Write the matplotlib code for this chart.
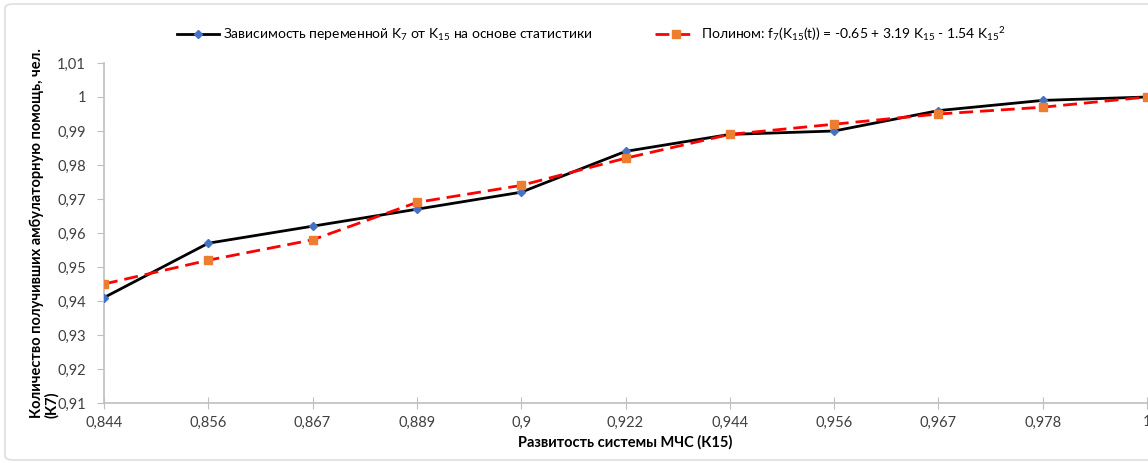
import matplotlib
matplotlib.use("Agg")
import matplotlib.pyplot as plt
from matplotlib.patches import FancyBboxPatch

plt.rcParams['font.family'] = ['Lato', 'DejaVu Sans']
plt.rcParams['mathtext.fontset'] = 'custom'
plt.rcParams['mathtext.rm'] = 'Lato'
plt.rcParams['mathtext.it'] = 'Lato'

# data
x_labels = ["0,844", "0,856", "0,867", "0,889", "0,9", "0,922", "0,944", "0,956", "0,967", "0,978", "1"]
k7_stat = [0.941, 0.957, 0.962, 0.967, 0.972, 0.984, 0.989, 0.990, 0.996, 0.999, 1.000]
k7_poly = [0.945, 0.952, 0.958, 0.969, 0.974, 0.982, 0.989, 0.992, 0.995, 0.997, 1.000]
y_ticks = [0.91, 0.92, 0.93, 0.94, 0.95, 0.96, 0.97, 0.98, 0.99, 1.0, 1.01]
y_labels = ["0,91", "0,92", "0,93", "0,94", "0,95", "0,96", "0,97", "0,98", "0,99", "1", "1,01"]

fig = plt.figure(figsize=(11.48, 4.63), dpi=100)
ax = fig.add_axes([104 / 1148, 1 - 403 / 463, 1043 / 1148, 340 / 463])

# chart frame
frame = FancyBboxPatch((5 / 1148, 3 / 463), 1.2, 456 / 463,
                       boxstyle="round,pad=0,rounding_size=0.008",
                       transform=fig.transFigure, fc="none", ec="#d9d9d9", lw=1)
fig.patches.append(frame)

pos = list(range(len(x_labels)))
ax.plot(pos, k7_stat, color="black", lw=2, marker="D", ms=4.5,
        mfc="#4472C4", mec="#4472C4",
        label=r"Зависимость переменной K$_7$ от K$_{15}$ на основе статистики", zorder=3)
ax.plot(pos, k7_poly, color="red", lw=2, dashes=(5, 2.5), marker="s", ms=6,
        mfc="#ED7D31", mec="#ED7D31",
        label=r"Полином: f$_7$(K$_{15}$(t)) = -0.65 + 3.19 K$_{15}$ - 1.54 K$_{15}$$^2$", zorder=3)

ax.set_xlim(0, len(x_labels) - 1)
ax.set_ylim(0.91, 1.01)
ax.set_xticks(pos)
ax.set_xticklabels(x_labels)
ax.set_yticks(y_ticks)
ax.set_yticklabels(y_labels)

for s in ["top", "right"]:
    ax.spines[s].set_visible(False)
for s in ["left", "bottom"]:
    ax.spines[s].set_color("#bfbfbf")
    ax.spines[s].set_linewidth(1.2)
ax.tick_params(axis="x", direction="inout", length=8, color="#bfbfbf", labelsize=10.5,
               labelcolor="#404040", pad=5)
ax.tick_params(axis="y", direction="out", length=5, color="#bfbfbf", labelsize=10.5,
               labelcolor="#404040", pad=8)

ax.set_xlabel("Развитость системы МЧС (К15)", fontsize=10.5, fontweight="bold", labelpad=4)
ax.set_ylabel("Количество получивших амбулаторную помощь, чел.\n(К7)", fontsize=10.5,
              fontweight="bold", labelpad=-1, linespacing=1.05)
ax.yaxis.label.set_multialignment("left")

fig.legend(loc="center", bbox_to_anchor=(591 / 1148, 1 - 34 / 463), ncol=2, frameon=False,
           fontsize=10, columnspacing=4.5, handlelength=3, handletextpad=0.3)

fig.savefig("out.png", dpi=100)
